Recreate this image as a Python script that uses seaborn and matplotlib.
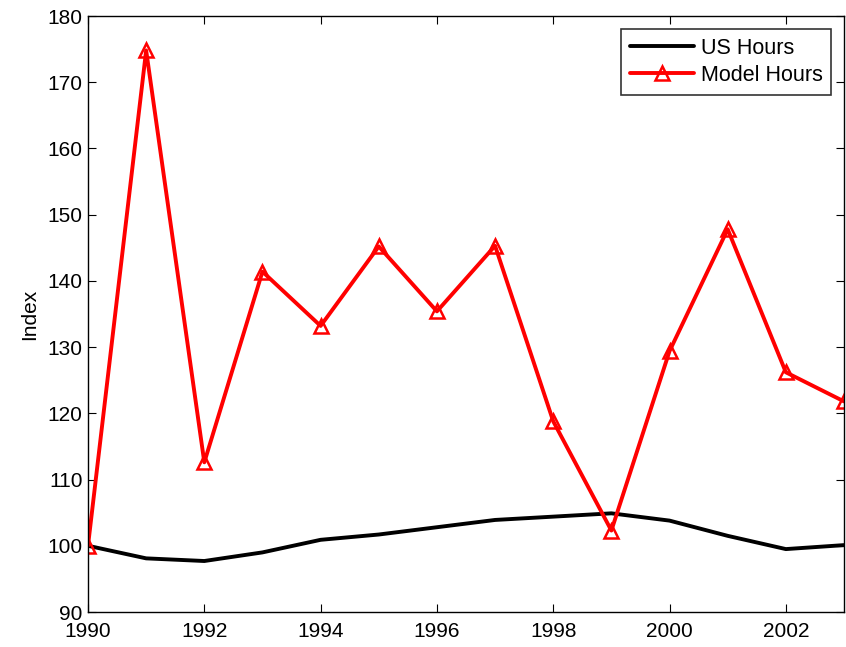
import numpy as np
import pandas as pd
import matplotlib
matplotlib.use("Agg")
import matplotlib.pyplot as plt
import seaborn as sns

years = list(range(1990, 2004))
us_hours = [100.0, 98.1, 97.7, 99.0, 100.9, 101.7, 102.8, 103.9, 104.4, 104.9, 103.8, 101.5, 99.5, 100.1]
model_hours = [100.0, 174.8, 112.6, 141.4, 133.2, 145.2, 135.4, 145.3, 118.8, 102.3, 129.4, 147.8, 126.2, 121.8]

df = pd.DataFrame({"year": years, "US Hours": us_hours, "Model Hours": model_hours})

sns.set_theme(style="white")
plt.rcParams.update({
    "font.family": ["Liberation Sans", "DejaVu Sans"],
    "xtick.direction": "in",
    "ytick.direction": "in",
    "axes.edgecolor": "black",
    "axes.linewidth": 1.0,
    "text.color": "black",
    "axes.labelcolor": "black",
    "xtick.color": "black",
    "ytick.color": "black",
})

fig = plt.figure(figsize=(8.46, 6.47), dpi=100)
ax = fig.add_axes([88 / 846, 35 / 647, 756 / 846, 596 / 647])

sns.lineplot(data=df, x="year", y="US Hours", color="black", linewidth=2.8,
             label="US Hours", ax=ax)
sns.lineplot(data=df, x="year", y="Model Hours", color="red", linewidth=2.8,
             marker="^", markersize=10, markerfacecolor="none",
             markeredgecolor="red", markeredgewidth=1.8,
             label="Model Hours", ax=ax)

ax.set_xlim(1990, 2003)
ax.set_ylim(90, 180)
ax.set_xticks(range(1990, 2004, 2))
ax.set_yticks(range(90, 181, 10))
ax.tick_params(axis="both", labelsize=15, length=6, width=0.8, color="black",
               top=True, right=True, bottom=True, left=True)
ax.tick_params(axis="x", pad=7)
ax.tick_params(axis="y", pad=4)
ax.set_xlabel("")
ax.set_ylabel("Index", fontsize=15, labelpad=6)
for s in ax.spines.values():
    s.set_visible(True)
    s.set_color("black")

leg = ax.legend(loc="upper right", fontsize=15.5, frameon=True, fancybox=False,
                edgecolor="black", borderpad=0.4, handlelength=3.0,
                labelspacing=0.3, handletextpad=0.3, borderaxespad=0.6)
leg.get_frame().set_linewidth(1.2)

fig.savefig("out.png", dpi=100)
